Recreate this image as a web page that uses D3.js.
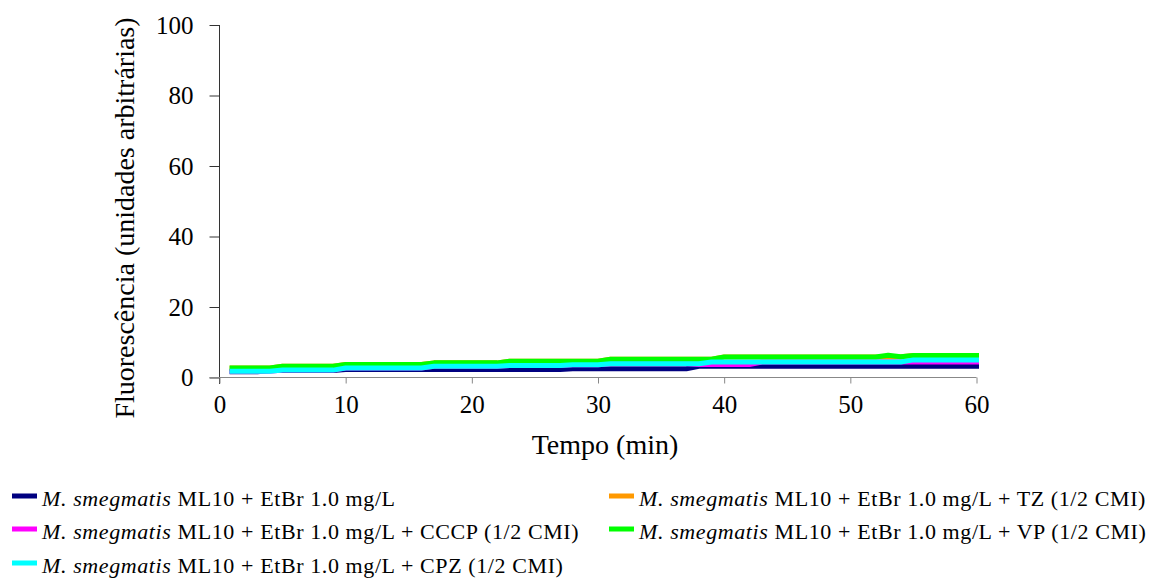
<!DOCTYPE html>
<meta charset="utf-8">
<style>
body { margin: 0; background: #fff; }
svg { font-family: "Liberation Serif", "Times New Roman", serif; }
.tick text { font-family: "Liberation Serif", "Times New Roman", serif; font-size: 25px; fill: #000; }
.series { fill: none; stroke-width: 5px; stroke-linecap: square; stroke-linejoin: round; }
.legend text { font-size: 22px; letter-spacing: 0.6px; }
</style>
<svg width="1152" height="578"></svg>
<script src="https://d3js.org/d3.v7.min.js"></script>
<script>

// minutes 1..60
var minutes = d3.range(1, 61);

var etbr = [1.6,1.6,1.6,2.0,2.0,2.0,2.0,2.0,2.0,2.3,
            2.3,2.3,2.3,2.3,2.3,2.3,2.3,2.3,2.3,2.3,
            2.3,2.3,2.3,2.3,2.3,2.3,2.3,2.5,2.5,2.5,
            2.5,2.5,2.5,2.5,2.5,2.5,2.5,3.2,3.2,3.2,
            3.2,3.2,3.2,3.2,3.2,3.2,3.2,3.2,3.2,3.2,
            3.2,3.2,3.2,3.2,3.2,3.2,3.2,3.2,3.2,3.2];

var tz   = [2.7,2.7,2.7,2.7,3.2,3.2,3.2,3.2,3.2,3.7,
            3.7,3.7,3.7,3.7,3.7,3.7,4.15,4.15,4.15,4.15,
            4.15,4.15,4.6,4.6,4.6,4.6,4.6,4.6,4.6,4.6,
            5.2,5.2,5.2,5.2,5.2,5.2,5.2,5.2,5.2,5.8,
            5.8,5.8,5.8,5.8,5.8,5.8,5.8,5.8,5.8,5.8,
            5.8,5.8,5.8,5.9,6.25,6.25,6.25,6.25,6.25,6.25];

var cccp = [1.8,1.8,1.8,1.8,2.1,2.1,2.1,2.1,2.1,2.7,
            2.7,2.7,2.7,2.7,2.7,2.7,3.2,3.2,3.2,3.2,
            3.2,3.2,3.4,3.4,3.4,3.4,3.4,3.6,3.6,3.6,
            3.9,3.9,3.9,3.9,3.9,3.9,3.9,3.7,3.7,3.7,
            3.7,3.7,4.4,4.4,4.4,4.4,4.4,4.4,4.4,4.4,
            4.4,4.4,4.4,4.4,4.4,4.4,4.4,4.4,4.4,4.4];

var vp   = [2.7,2.7,2.7,2.7,3.2,3.2,3.2,3.2,3.2,3.7,
            3.7,3.7,3.7,3.7,3.7,3.7,4.15,4.15,4.15,4.15,
            4.15,4.15,4.6,4.6,4.6,4.6,4.6,4.6,4.6,4.6,
            5.2,5.2,5.2,5.2,5.2,5.2,5.2,5.2,5.2,5.8,
            5.8,5.8,5.8,5.8,5.8,5.8,5.8,5.8,5.8,5.8,
            5.8,5.8,6.3,5.9,6.25,6.25,6.25,6.25,6.25,6.25];

var cpz  = [1.8,1.8,1.8,1.8,2.1,2.1,2.1,2.1,2.1,2.7,
            2.7,2.7,2.7,2.7,2.7,2.7,3.2,3.2,3.2,3.2,
            3.2,3.2,3.4,3.4,3.4,3.4,3.4,3.6,3.6,3.6,
            3.9,3.9,3.9,3.9,3.9,3.9,3.9,3.9,4.4,4.4,
            4.4,4.4,4.4,4.4,4.4,4.4,4.4,4.4,4.4,4.4,
            4.4,4.4,4.4,4.4,5.0,5.0,5.0,5.0,5.0,5.0];

var seriesNames = ["EtBr 1.0 mg/L",
                   "EtBr 1.0 mg/L + TZ (1/2 CMI)",
                   "EtBr 1.0 mg/L + CCCP (1/2 CMI)",
                   "EtBr 1.0 mg/L + VP (1/2 CMI)",
                   "EtBr 1.0 mg/L + CPZ (1/2 CMI)"];
var seriesColors = ["#000080", "#FF9900", "#FF00FF", "#00FF00", "#00FFFF"];
var seriesValues = [etbr, tz, cccp, vp, cpz];

var xTicks = [0, 10, 20, 30, 40, 50, 60];
var yTicks = [0, 20, 40, 60, 80, 100];

var svg = d3.select("svg");

var x = d3.scaleLinear().domain([0, 60]).range([219.5, 976.5]);
var y = d3.scaleLinear().domain([0, 100]).range([377.5, 25]);

// y axis
var yAxis = svg.append("g")
    .attr("transform", "translate(" + 219.5 + ",0)")
    .call(d3.axisLeft(y).tickValues(yTicks).tickSize(10).tickPadding(16));
yAxis.select(".domain").attr("stroke", "#333").attr("d", "M0,25V384");
yAxis.selectAll(".tick line").attr("stroke", "#333");

// x axis
var xAxis = svg.append("g")
    .attr("transform", "translate(0," + 377.5 + ")")
    .call(d3.axisBottom(x).tickValues(xTicks).tickSize(6).tickPadding(12));
xAxis.select(".domain").attr("stroke", "#888").attr("d", "M209.5,0H976.5");
xAxis.selectAll(".tick line").attr("stroke", "#888");

// lines
var line = d3.line()
    .x(function(d, i) { return x(minutes[i]); })
    .y(function(d) { return y(d); });

svg.append("g")
  .selectAll("path")
  .data(seriesValues)
  .enter().append("path")
    .attr("class", "series")
    .attr("stroke", function(d, i) { return seriesColors[i]; })
    .attr("d", line);

// axis titles
svg.append("text")
    .attr("x", 605)
    .attr("y", 454)
    .attr("text-anchor", "middle")
    .attr("font-size", 28)
    .text("Tempo (min)");

svg.append("text")
    .attr("transform", "translate(134,218) rotate(-90)")
    .attr("text-anchor", "middle")
    .attr("font-size", 28)
    .text("Fluorescência (unidades arbitrárias)");

// legend: row-wise in two columns
var legendPos = [[12, 496], [609, 496], [12, 529], [609, 529], [12, 563]];

var legend = svg.append("g")
    .attr("class", "legend")
  .selectAll("g")
  .data(seriesNames)
  .enter().append("g")
    .attr("transform", function(d, i) { return "translate(" + legendPos[i][0] + "," + legendPos[i][1] + ")"; });

legend.append("rect")
    .attr("x", 0)
    .attr("y", -2.5)
    .attr("width", 25)
    .attr("height", 5)
    .attr("fill", function(d, i) { return seriesColors[i]; });

var lt = legend.append("text")
    .attr("x", 30)
    .attr("y", 10);
lt.append("tspan").attr("font-style", "italic").text("M. smegmatis");
lt.append("tspan").text(function(d) { return " ML10 + " + d; });

</script>
